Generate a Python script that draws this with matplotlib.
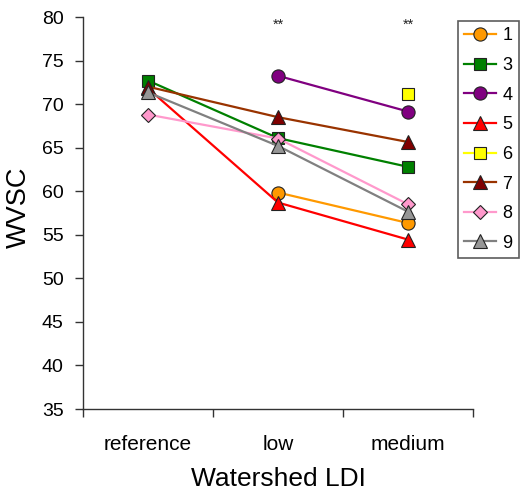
import numpy as np
import matplotlib
matplotlib.use("Agg")
import matplotlib.pyplot as plt
from matplotlib.ticker import FixedLocator

plt.rcParams['font.family'] = ['Liberation Sans', 'DejaVu Sans']

categories = ['reference', 'low', 'medium']
series_labels = ['1', '3', '4', '5', '6', '7', '8', '9']
s1 = [np.nan, 59.85, 56.35]
s3 = [72.7, 66.1, 62.8]
s4 = [np.nan, 73.25, 69.15]
s5 = [71.8, 58.7, 54.45]
s6 = [np.nan, np.nan, 71.2]
s7 = [72.0, 68.5, 65.65]
s8 = [68.8, 66.05, 58.5]
s9 = [71.35, 65.2, 57.65]
sig_marks = ['', '**', '**']

values = [s1, s3, s4, s5, s6, s7, s8, s9]
line_colors = ['#FF9900', '#008000', '#800080', '#FF0000', '#FFFF00', '#993300', '#FF99CC', '#808080']
face_colors = ['#FF9900', '#008000', '#800080', '#FF0000', '#FFFF00', '#800000', '#FF99CC', '#969696']
markers = ['o', 's', 'o', '^', 's', '^', 'D', '^']
msizes = [9.5, 9, 9.5, 10, 9, 10, 7.5, 10]

fig = plt.figure(figsize=(5.23, 4.97), dpi=100)
W, H = 523, 497
ax = fig.add_axes([83 / W, 1 - 409 / H, (473 - 83) / W, (409 - 17) / H])

x = np.arange(len(categories))
handles = []
for vals, lc, fc, m, ms, lab in zip(values, line_colors, face_colors, markers, msizes, series_labels):
    h, = ax.plot(x, vals, color=lc, lw=1.6, marker=m, markersize=ms,
                 markerfacecolor=fc, markeredgecolor='#222222', markeredgewidth=0.8,
                 label=lab, clip_on=False)
    handles.append(h)

for xi, s in zip(x, sig_marks):
    if s:
        ax.text(xi, 79.1, s, ha='center', va='center', fontsize=10.5, color='#222222')

ax.set_xlim(-0.5, 2.5)
ax.set_ylim(35, 80)
ax.set_yticks(np.arange(35, 81, 5))
ax.set_xticks(x)
ax.set_xticklabels(categories, fontsize=15)
ax.tick_params(axis='x', which='major', length=0, pad=19)
ax.xaxis.set_minor_locator(FixedLocator([-0.5, 0.5, 1.5, 2.5]))
ax.tick_params(axis='x', which='minor', length=6, width=1, color='#333333', direction='out')
ax.tick_params(axis='y', labelsize=14, length=6, width=1, color='#333333', direction='out', pad=8)

for sp in ['top', 'right']:
    ax.spines[sp].set_visible(False)
for sp in ['left', 'bottom']:
    ax.spines[sp].set_color('#333333')
    ax.spines[sp].set_linewidth(1)

ax.set_ylabel('WVSC', fontsize=19.5)
ax.yaxis.set_label_coords(-0.131, 0.515)
ax.set_xlabel('Watershed LDI', fontsize=19, labelpad=9)

leg = fig.legend(handles=handles, loc='upper left', bbox_to_anchor=(458 / W, 1 - 21 / H),
                 fontsize=13, frameon=True, fancybox=False, edgecolor='#333333',
                 handlelength=1.75, handletextpad=0.35, labelspacing=0.7,
                 borderpad=0.35, borderaxespad=0)
leg.get_frame().set_linewidth(1.2)

fig.savefig('out.png', dpi=100)
